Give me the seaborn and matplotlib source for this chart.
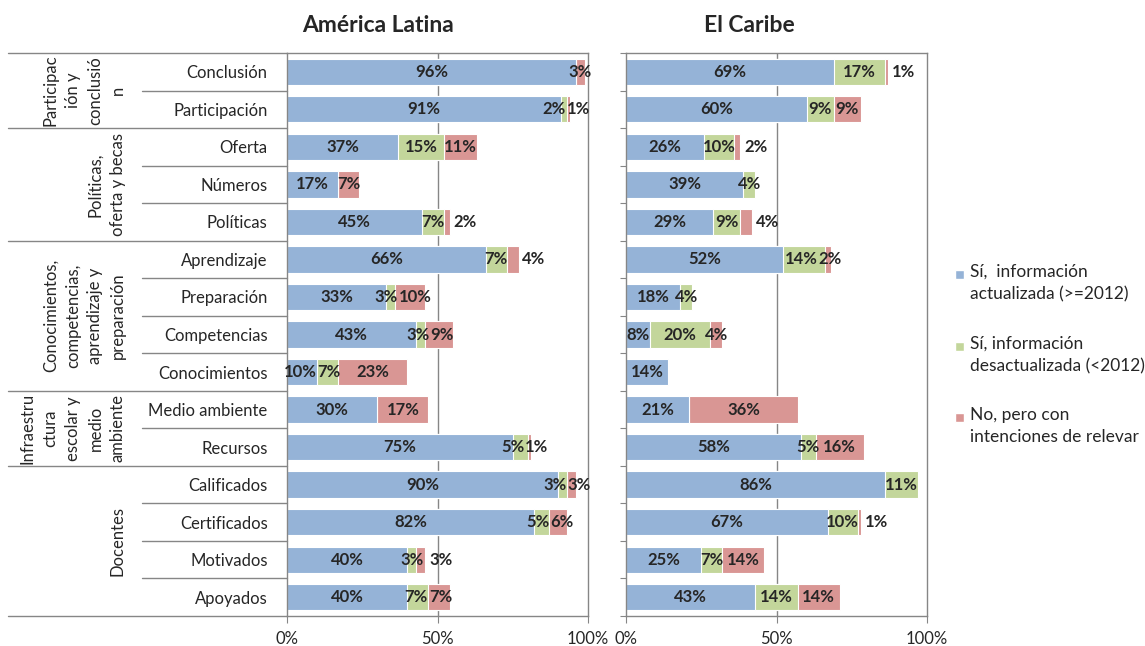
import numpy as np
import pandas as pd
import seaborn as sns
import matplotlib
matplotlib.use('Agg')
from matplotlib import pyplot as plt
from matplotlib.patches import Rectangle
from matplotlib.transforms import Bbox, TransformedBbox, blended_transform_factory

# categorias (de arriba hacia abajo) y grupos
categorias = ['Conclusión', 'Participación', 'Oferta', 'Números', 'Políticas',
              'Aprendizaje', 'Preparación', 'Competencias', 'Conocimientos',
              'Medio ambiente', 'Recursos', 'Calificados', 'Certificados',
              'Motivados', 'Apoyados']
grupos = ['Participac\nión y\nconclusió\nn',
          'Políticas,\noferta y becas',
          'Conocimientos,\ncompetencias,\naprendizaje y\npreparación',
          'Infraestru\nctura\nescolar y\nmedio\nambiente',
          'Docentes']
filas_por_grupo = [2, 3, 4, 2, 4]

series = ['Sí,  información\nactualizada (>=2012)',
          'Sí, información\ndesactualizada (<2012)',
          'No, pero con\nintenciones de relevar']

# America Latina (%)
al_actual = [96, 91, 37, 17, 45, 66, 33, 43, 10, 30, 75, 90, 82, 40, 40]
al_desact = [0, 2, 15, 0, 7, 7, 3, 3, 7, 0, 5, 3, 5, 3, 7]
al_relevar = [3, 1, 11, 7, 2, 4, 10, 9, 23, 17, 1, 3, 6, 3, 7]

# El Caribe (%)
ca_actual = [69, 60, 26, 39, 29, 52, 18, 8, 14, 21, 58, 86, 67, 25, 43]
ca_desact = [17, 9, 10, 4, 9, 14, 4, 20, 0, 0, 5, 11, 10, 7, 14]
ca_relevar = [1, 9, 2, 0, 4, 2, 0, 4, 0, 36, 16, 0, 1, 14, 14]

# etiquetas rojas que van a la derecha de la barra
fuera_al = ['Políticas', 'Aprendizaje', 'Motivados']
fuera_ca = ['Conclusión', 'Oferta', 'Políticas', 'Certificados']

azul = '#95B3D7'
verde = '#C3D69B'
rojo = '#D99694'
gris = '#868686'

sns.set_style('white')
plt.rcParams['font.family'] = ['Lato', 'DejaVu Sans']

fig = plt.figure(figsize=(11.45, 6.46), dpi=100)
W, H = 1145, 646
ax1 = fig.add_axes([287 / W, 1 - 616 / H, 301 / W, 563 / H])
ax2 = fig.add_axes([626 / W, 1 - 616 / H, 301 / W, 563 / H])


def panel(ax, actual, desact, relevar, fuera):
    df = pd.DataFrame({'cat': categorias,
                       'a': np.array(actual) / 100,
                       'd': np.array(desact) / 100,
                       'r': np.array(relevar) / 100})
    df['ad'] = df['a'] + df['d']
    df['adr'] = df['ad'] + df['r']
    ax.axvline(0.5, color=gris, lw=1, zorder=0)
    for col, color in [('adr', rojo), ('ad', verde), ('a', azul)]:
        sns.barplot(data=df, x=col, y='cat', color=color, saturation=1,
                    width=0.7, errorbar=None, edgecolor='white', linewidth=0.8,
                    ax=ax, zorder=2)
    filas = []
    for i, fila in df.iterrows():
        inicio = 0
        textos = []
        for col in ['a', 'd', 'r']:
            v = fila[col]
            if v > 0:
                if col == 'r' and fila['cat'] in fuera:
                    t = ax.text(inicio + v + 0.012, i, f'{round(v * 100)}%',
                                ha='left', va='center', fontsize=12,
                                fontweight='bold', zorder=3)
                else:
                    t = ax.text(inicio + v / 2, i, f'{round(v * 100)}%',
                                ha='center', va='center', fontsize=12,
                                fontweight='bold', zorder=3)
                textos.append(t)
            inicio += v
        filas.append(textos)
    ax.set_xlim(0, 1)
    ax.set_ylim(len(categorias) - 0.5, -0.5)
    ax.set_xticks([0, 0.5, 1])
    ax.set_xticklabels(['0%', '50%', '100%'])
    ax.tick_params(axis='x', direction='out', length=5, color=gris,
                   labelsize=12, pad=6, bottom=True)
    ax.set_xlabel('')
    ax.set_ylabel('')
    for s in ax.spines.values():
        s.set_visible(True)
        s.set_color(gris)
        s.set_linewidth(1)
    return filas


def separar(ax, filas):
    # aparta las etiquetas pequeñas que se pisan
    fig.canvas.draw()
    r = fig.canvas.get_renderer()
    ancho = ax.bbox.width
    for textos in filas:
        for t1, t2 in zip(textos[:-1], textos[1:]):
            b1 = t1.get_window_extent(r)
            b2 = t2.get_window_extent(r)
            solape = b1.x1 + 1 - b2.x0
            if solape > 0:
                d = solape / 2 / ancho
                t1.set_x(t1.get_position()[0] - d)
                t2.set_x(t2.get_position()[0] + d)


filas_al = panel(ax1, al_actual, al_desact, al_relevar, fuera_al)
filas_ca = panel(ax2, ca_actual, ca_desact, ca_relevar, fuera_ca)

ax1.tick_params(axis='y', length=0, labelsize=12, pad=14)
ax2.set_yticks(np.arange(-0.5, len(categorias), 1))
ax2.set_yticklabels([])
ax2.tick_params(axis='y', direction='out', length=4, color=gris, left=True)

# lineas y etiquetas del eje de categorias (dos niveles)
tr = blended_transform_factory(ax1.transAxes, ax1.transData)
x_cat = (142 - 287) / 301
x_grp = (8 - 287) / 301
fronteras = np.cumsum([0] + filas_por_grupo)
for k in range(len(categorias) + 1):
    y = k - 0.5
    x0 = x_grp if k in fronteras else x_cat
    ax1.plot([x0, 0], [y, y], color=gris, lw=1, transform=tr, clip_on=False)

n = len(categorias)
for g, texto in enumerate(grupos):
    a, b = fronteras[g], fronteras[g + 1]
    t = fig.text(-0.535, 1 - (a + b) / 2 / n, texto, transform=ax1.transAxes,
                 rotation=90, ha='right', va='center', multialignment='center',
                 fontsize=12, linespacing=1.5)
    t.set_clip_on(True)
    t.set_clip_box(TransformedBbox(Bbox.from_extents(x_grp, 1 - b / n, x_cat, 1 - a / n),
                                   ax1.transAxes))

fig.text(378 / W, 1 - 25 / H, 'América Latina', ha='center', va='center',
         fontsize=16.5, fontweight='bold')
fig.text(749 / W, 1 - 25 / H, 'El Caribe', ha='center', va='center',
         fontsize=16.5, fontweight='bold')

# leyenda
for texto, color, y in zip(series, [azul, verde, rojo], [275, 347, 418]):
    fig.patches.append(Rectangle((955 / W, 1 - (y + 4) / H), 9 / W, 9 / H,
                                 facecolor=color, transform=fig.transFigure))
    fig.text(970 / W, 1 - (y - 11) / H, texto, ha='left', va='top',
             fontsize=12.5, linespacing=1.5)

separar(ax1, filas_al)
separar(ax2, filas_ca)

fig.savefig('out.png', dpi=100)
